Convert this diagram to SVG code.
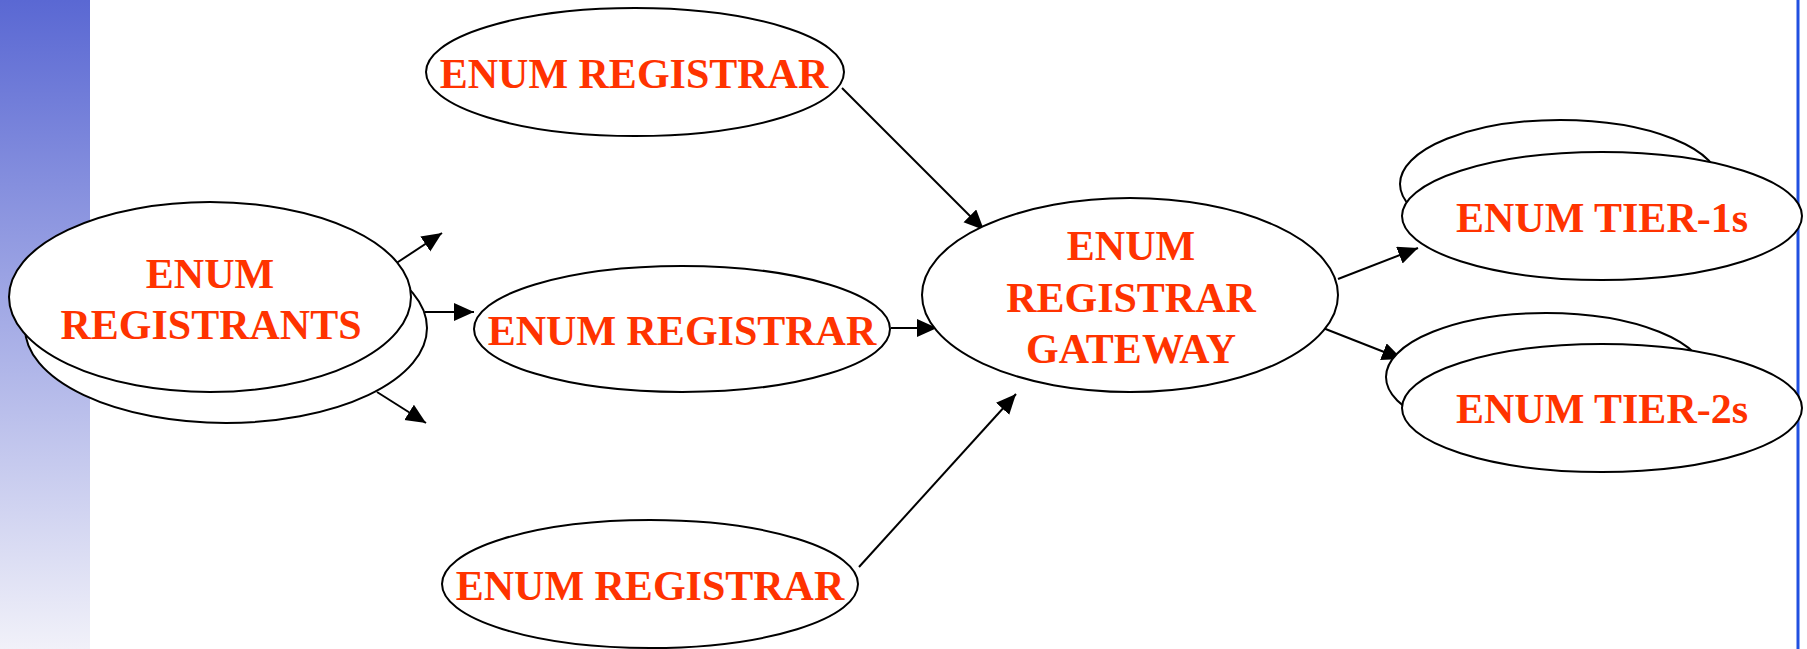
<svg xmlns="http://www.w3.org/2000/svg" width="1807" height="649" viewBox="0 0 1807 649">
<style>
.sh{fill:#fff;stroke:#000;stroke-width:2}
.t{font-family:"Liberation Serif","Times New Roman",serif;font-weight:bold;font-size:42px;fill:#ff3300;text-anchor:middle}
.c{stroke:#000;stroke-width:2;fill:none;marker-end:url(#ah)}
</style>
<defs>
<linearGradient id="bar" x1="0" y1="0" x2="0" y2="1">
<stop offset="0" stop-color="#5a68d3"/>
<stop offset="1" stop-color="#f1f1f9"/>
</linearGradient>
<marker id="ah" markerUnits="userSpaceOnUse" markerWidth="22" markerHeight="20" refX="20" refY="9" orient="auto">
<path d="M0,0 L20,9 L0,18 Z" fill="#000"/>
</marker>
</defs>
<rect x="0" y="0" width="1807" height="649" fill="#fff"/>
<rect x="0" y="0" width="90" height="649" fill="url(#bar)"/>
<line x1="1798" y1="0" x2="1798" y2="649" stroke="#2150e0" stroke-width="3"/>
<g id="connectors">
<line class="c" x1="395" y1="264" x2="442" y2="233"/>
<line class="c" x1="425" y1="312" x2="474" y2="312"/>
<line class="c" x1="377" y1="392" x2="426" y2="423"/>
<line class="c" x1="891" y1="328" x2="937" y2="328"/>
<line class="c" x1="842" y1="88" x2="984" y2="230"/>
<line class="c" x1="859" y1="567" x2="1016" y2="394"/>
<line class="c" x1="1338" y1="279" x2="1418" y2="248"/>
<line class="c" x1="1323" y1="328" x2="1402" y2="359"/>
</g>
<g id="registrants">
<ellipse class="sh" cx="226" cy="328" rx="201" ry="95"/>
<ellipse class="sh" cx="210" cy="297" rx="201" ry="95"/>
<text class="t" x="210" y="288">ENUM</text>
<text class="t" x="211" y="339">REGISTRANTS</text>
</g>
<g id="registrar-top">
<ellipse class="sh" cx="635" cy="72" rx="209" ry="64"/>
<text class="t" x="634" y="88">ENUM REGISTRAR</text>
</g>
<g id="registrar-middle">
<ellipse class="sh" cx="682" cy="329" rx="208" ry="63"/>
<text class="t" x="682" y="345">ENUM REGISTRAR</text>
</g>
<g id="registrar-bottom">
<ellipse class="sh" cx="650" cy="584" rx="208" ry="64"/>
<text class="t" x="650" y="600">ENUM REGISTRAR</text>
</g>
<g id="gateway">
<ellipse class="sh" cx="1130" cy="295" rx="208" ry="97"/>
<text class="t" x="1131" y="260">ENUM</text>
<text class="t" x="1131" y="312">REGISTRAR</text>
<text class="t" x="1131" y="363">GATEWAY</text>
</g>
<g id="tier1">
<ellipse class="sh" cx="1560" cy="184" rx="160" ry="64"/>
<ellipse class="sh" cx="1602" cy="216" rx="200" ry="64"/>
<text class="t" x="1602" y="232">ENUM TIER-1s</text>
</g>
<g id="tier2">
<ellipse class="sh" cx="1546" cy="377" rx="160" ry="64"/>
<ellipse class="sh" cx="1602" cy="408" rx="200" ry="64"/>
<text class="t" x="1602" y="423">ENUM TIER-2s</text>
</g>
</svg>
